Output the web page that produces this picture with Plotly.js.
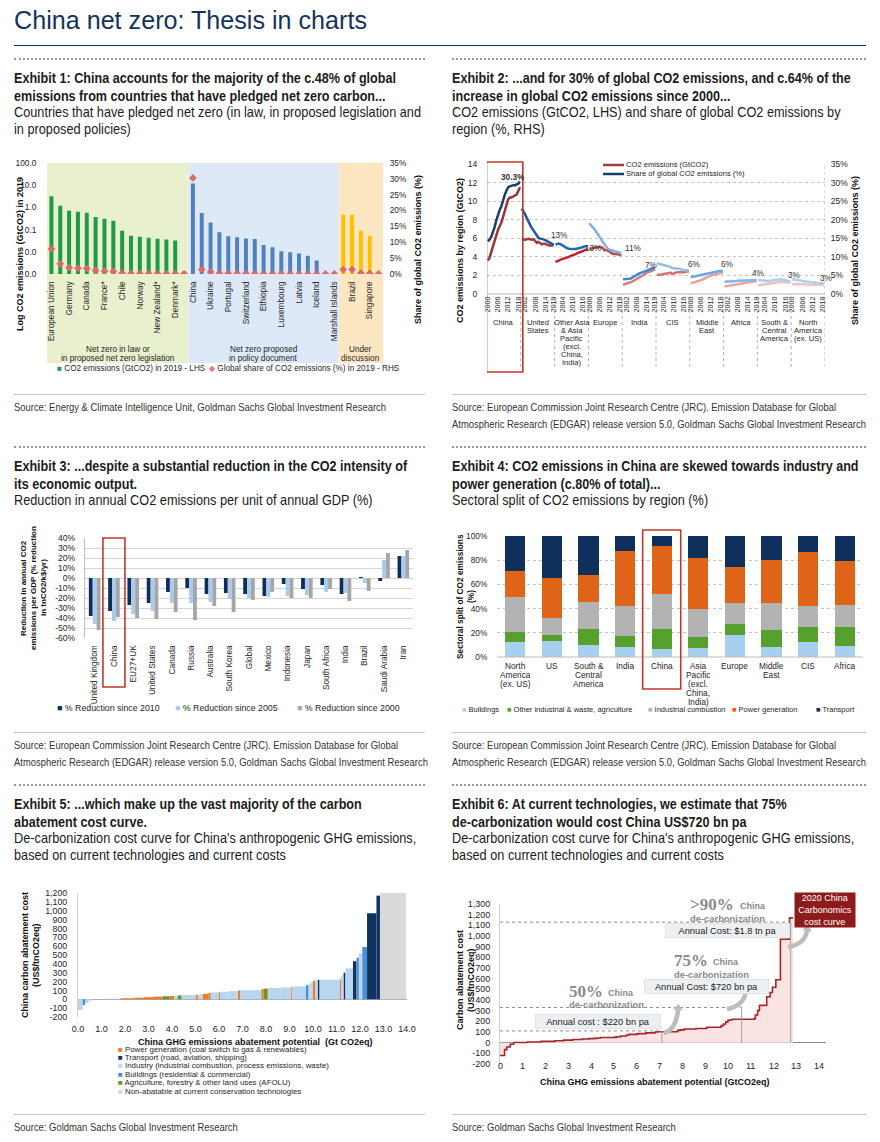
<!DOCTYPE html>
<html>
<head>
<meta charset="utf-8">
<script src="https://cdn.plot.ly/plotly-3.0.1.min.js"></script>
<style>
html,body{margin:0;padding:0;background:#fff;}
#page{position:relative;width:880px;height:1142px;overflow:hidden;font-family:"Liberation Sans",Arial,sans-serif;color:#1c1c1c;}
.t{position:absolute;white-space:nowrap;margin:0;transform-origin:0 0;}
.main{left:14px;top:5px;font-size:26.5px;line-height:30px;color:#14325c;}
.ex{font-weight:bold;font-size:15px;line-height:18px;}
.sub{font-size:14.5px;line-height:17px;}
.src{font-size:10.5px;line-height:17px;color:#333;}
.navy{position:absolute;left:14px;width:852px;top:45px;border-top:1px solid #14325c;}
.dot{position:absolute;border-top:2px dotted #9a9a9a;}
.thin{position:absolute;border-top:1px solid #c8c8c8;}
.chart{position:absolute;}
</style>
</head>
<body>
<div id="page">
  <div class="t main">China net zero: Thesis in charts</div>
  <div class="navy"></div>

  <div class="dot" style="left:14px;width:411px;top:58px"></div>
  <div class="dot" style="left:452px;width:414px;top:58px"></div>
  <div class="t ex" style="left:14px;top:69px">Exhibit 1: China accounts for the majority of the c.48% of global<br>emissions from countries that have pledged net zero carbon...</div>
  <div class="t sub" style="left:14px;top:104px">Countries that have pledged net zero (in law, in proposed legislation and<br>in proposed policies)</div>
  <div class="t ex" style="left:452px;top:69px">Exhibit 2: ...and for 30% of global CO2 emissions, and c.64% of the<br>increase in global CO2 emissions since 2000...</div>
  <div class="t sub" style="left:452px;top:104px">CO2 emissions (GtCO2, LHS) and share of global CO2 emissions by<br>region (%, RHS)</div>
  <div class="thin" style="left:14px;width:411px;top:394px"></div>
  <div class="thin" style="left:452px;width:414px;top:394px"></div>
  <div class="t src" style="left:14px;top:399px">Source: Energy &amp; Climate Intelligence Unit, Goldman Sachs Global Investment Research</div>
  <div class="t src" style="left:452px;top:399px">Source: European Commission Joint Research Centre (JRC). Emission Database for Global<br>Atmospheric Research (EDGAR) release version 5.0, Goldman Sachs Global Investment Research</div>

  <div class="dot" style="left:14px;width:411px;top:446px"></div>
  <div class="dot" style="left:452px;width:414px;top:446px"></div>
  <div class="t ex" style="left:14px;top:457px">Exhibit 3: ...despite a substantial reduction in the CO2 intensity of<br>its economic output.</div>
  <div class="t sub" style="left:14px;top:492px">Reduction in annual CO2 emissions per unit of annual GDP (%)</div>
  <div class="t ex" style="left:452px;top:457px">Exhibit 4: CO2 emissions in China are skewed towards industry and<br>power generation (c.80% of total)...</div>
  <div class="t sub" style="left:452px;top:492px">Sectoral split of CO2 emissions by region (%)</div>
  <div class="thin" style="left:14px;width:411px;top:732px"></div>
  <div class="thin" style="left:452px;width:414px;top:732px"></div>
  <div class="t src" style="left:14px;top:737px">Source: European Commission Joint Research Centre (JRC). Emission Database for Global<br>Atmospheric Research (EDGAR) release version 5.0, Goldman Sachs Global Investment Research</div>
  <div class="t src" style="left:452px;top:737px">Source: European Commission Joint Research Centre (JRC). Emission Database for Global<br>Atmospheric Research (EDGAR) release version 5.0, Goldman Sachs Global Investment Research</div>

  <div class="dot" style="left:14px;width:411px;top:784px"></div>
  <div class="dot" style="left:452px;width:414px;top:784px"></div>
  <div class="t ex" style="left:14px;top:795px">Exhibit 5: ...which make up the vast majority of the carbon<br>abatement cost curve.</div>
  <div class="t sub" style="left:14px;top:830px">De-carbonization cost curve for China's anthropogenic GHG emissions,<br>based on current technologies and current costs</div>
  <div class="t ex" style="left:452px;top:795px">Exhibit 6: At current technologies, we estimate that 75%<br>de-carbonization would cost China US$720 bn pa</div>
  <div class="t sub" style="left:452px;top:830px">De-carbonization cost curve for China's anthropogenic GHG emissions,<br>based on current technologies and current costs</div>
  <div class="thin" style="left:14px;width:411px;top:1114px"></div>
  <div class="thin" style="left:452px;width:414px;top:1114px"></div>
  <div class="t src" style="left:14px;top:1119px">Source: Goldman Sachs Global Investment Research</div>
  <div class="t src" style="left:452px;top:1119px">Source: Goldman Sachs Global Investment Research</div>

  <div id="c1" class="chart"></div>
  <div id="c2" class="chart"></div>
  <div id="c3" class="chart"></div>
  <div id="c4" class="chart"></div>
  <div id="c5" class="chart"></div>
  <div id="c6" class="chart"></div>
</div>
<script>
// ================= DATA =================
// Exhibit 1
const grp1Names=["European Union","","Germany","","Canada","","France*","","Chile","","Norway","","New Zealand*","","Denmark*",""];
const grp1Emis=[3.2,1.2,0.71,0.64,0.58,0.37,0.31,0.25,0.089,0.053,0.048,0.043,0.039,0.036,0.032,0.0013];
const grp1Share=[7.9,3.2,2.0,1.8,1.7,1.1,0.9,0.8,0.3,0.15,0.15,0.12,0.1,0.1,0.1,0.05];
const grp2Names=["China","","Ukraine","","Portugal","","Switzerland","","Ethiopia","","Luxembourg","","Latvia","","Iceland","","Marshall Islands"];
const grp2Emis=[12,0.56,0.21,0.075,0.05,0.045,0.04,0.038,0.02,0.016,0.0105,0.0095,0.0083,0.0067,0.0041,null,null];
const grp2Share=[30.3,1.4,0.6,0.2,0.15,0.12,0.12,0.1,0.05,0.05,0.03,0.03,0.02,0.02,0.01,0,0];
const grp3Names=["","Brazil","","Singapore",""];
const grp3Emis=[0.47,0.47,0.089,0.053,null];
const grp3Share=[1.4,1.4,0.3,0.15,0.05];
const c1LogTicks=[0.001,0.01,0.1,1,10,100];
const c1Groups=[["Net zero in law or","in proposed net zero legislation"],["Net zero proposed","in policy document"],["Under","discussion"]];

// Exhibit 2
const c2Years=[2000,2001,2002,2003,2004,2005,2006,2007,2008,2009,2010,2011,2012,2013,2014,2015,2016,2017,2018,2019];
const c2RegionLines=[["China"],["United","States"],["Other Asia","& Asia","Pacific","(excl.","China,","India)"],["Europe"],["India"],["CIS"],["Middle","East"],["Africa"],["South &","Central","America"],["North","America","(ex. US)"]];
const c2TickYears=[[2000,2006,2012,2018],[2002,2008,2014,2019],[2004,2010,2016],[2000,2006,2012,2018],[2002,2008,2014,2019],[2004,2010,2016],[2000,2006,2012,2018],[2002,2008,2014,2019],[2004,2010,2016],[2000,2006,2012,2018]];
const emChina=[3.6,3.9,4.5,5.1,5.8,6.4,6.9,7.3,7.7,8.3,9.0,9.7,10.2,10.4,10.4,10.5,10.6,10.7,11.1,11.5];
const shChina=[14.2,14.6,15.4,16.6,18.0,19.8,21.6,22.6,23.6,25.5,26.7,27.8,28.7,29.0,29.2,29.3,29.3,29.4,29.7,30.3];
const emUS=[5.9,5.85,5.85,5.9,5.95,5.9,5.85,5.9,5.75,5.5,5.6,5.5,5.35,5.4,5.4,5.3,5.25,5.2,5.3,5.2];
const shUS=[23.0,22.4,21.5,20.5,19.4,18.6,17.8,17.1,16.4,15.7,15.1,14.9,14.9,14.7,14.5,14.2,13.9,13.6,13.5,13.3];
const emOtherAsia=[3.45,3.5,3.6,3.7,3.75,3.8,3.9,3.95,4.0,4.1,4.15,4.2,4.3,4.4,4.45,4.5,4.6,4.7,4.8,4.85];
const shOtherAsia=[13.3,13.5,13.6,13.4,13.1,12.8,12.5,12.3,12.2,12.1,12.2,12.1,12.1,12.2,12.2,12.4,12.6,12.8,12.9,12.9];
const emEurope=[4.85,4.9,4.9,5.0,5.05,5.05,5.05,5.05,4.95,4.7,4.75,4.6,4.55,4.45,4.3,4.3,4.3,4.3,4.25,4.15];
const shEurope=[19.0,18.6,18.0,17.5,16.9,16.2,15.5,14.8,14.0,13.3,12.8,12.2,11.9,11.8,11.6,11.6,11.4,11.3,11.1,10.9];
const emIndia=[1.0,1.05,1.1,1.15,1.25,1.3,1.4,1.5,1.6,1.75,1.85,1.95,2.05,2.15,2.3,2.35,2.4,2.5,2.6,2.6];
const shIndia=[4.0,4.0,3.9,4.0,4.1,4.3,4.5,4.8,5.1,5.4,5.6,5.8,6.0,6.2,6.4,6.5,6.6,6.8,7.0,7.0];
const emCIS=[2.05,2.05,2.1,2.1,2.15,2.15,2.2,2.25,2.3,2.15,2.25,2.3,2.35,2.35,2.35,2.3,2.35,2.4,2.45,2.4];
const shCIS=[8.3,8.2,8.0,7.9,7.8,7.6,7.5,7.4,7.3,7.0,7.0,7.0,6.9,6.8,6.7,6.5,6.4,6.4,6.3,6.3];
const emMiddleEast=[1.15,1.2,1.25,1.3,1.35,1.45,1.5,1.55,1.65,1.75,1.85,1.9,2.0,2.05,2.1,2.15,2.2,2.25,2.25,2.3];
const shMiddleEast=[4.6,4.6,4.7,4.8,4.9,5.0,5.1,5.2,5.4,5.6,5.7,5.8,5.9,6.0,6.0,6.1,6.1,6.2,6.2,6.2];
const emAfrica=[0.8,0.83,0.86,0.9,0.93,0.97,1.0,1.03,1.07,1.1,1.13,1.17,1.2,1.22,1.25,1.28,1.3,1.33,1.36,1.4];
const shAfrica=[3.3,3.3,3.4,3.4,3.4,3.5,3.5,3.5,3.6,3.6,3.7,3.7,3.7,3.7,3.8,3.8,3.8,3.8,3.7,3.8];
const emSCAmerica=[0.95,0.97,0.96,0.98,1.0,1.03,1.06,1.1,1.15,1.12,1.2,1.24,1.28,1.3,1.32,1.3,1.26,1.22,1.2,1.2];
const shSCAmerica=[3.8,3.7,3.6,3.5,3.5,3.5,3.5,3.5,3.6,3.7,3.8,3.9,3.9,3.9,3.9,3.8,3.6,3.5,3.4,3.3];
const emNAmerica=[1.05,1.05,1.08,1.1,1.1,1.12,1.1,1.1,1.08,1.0,1.02,1.03,1.0,1.0,1.0,0.98,0.96,0.97,0.98,0.96];
const shNAmerica=[4.0,4.0,3.9,3.8,3.7,3.6,3.5,3.4,3.4,3.3,3.3,3.2,3.1,3.1,3.0,3.0,3.0,2.9,2.9,2.9];
const c2ShareLabels=["30.3%","13%","13%","11%","7%","6%","6%","4%","3%","3%"];

// Exhibit 3
const c3Countries=["United Kingdom","China","EU27+UK","United States","Canada","Russia","Australia","South Korea","Global","Mexico","Indonesia","Japan","South Africa","India","Brazil","Saudi Arabia","Iran"];
const red2010=[-38,-33,-27,-25,-14,-10,-16,-15,-16,-18,-6,-11,-7,-16,1,-3,22];
const red2005=[-46,-43,-36,-33,-25,-25,-24,-21,-20,-19,-18,-17,-14,-15,-5,18,22];
const red2000=[-52,-39,-40,-41,-34,-42,-28,-34,-22,-14,-20,-20,-11,-23,-13,25,28];
const c3Ticks=[-60,-50,-40,-30,-20,-10,0,10,20,30,40];

// Exhibit 4
const c4RegionLines=[["North","America","(ex. US)"],["US"],["South &","Central","America"],["India"],["China"],["Asia","Pacific","(excl.","China,","India)"],["Europe"],["Middle","East"],["CIS"],["Africa"]];
const secBuildings=[12,13,10,8,7,7.5,18,8,12,9];
const secOtherInd=[9,5,13,9,16,9,9.5,14,13,16];
const secIndComb=[29,14,22.5,25,29,23,17,23,17.5,18];
const secPower=[21,33,22.5,46,39.5,42,30,35.5,44.5,36];
const secTransport=[29,35,32,12,8.5,18.5,25.5,19.5,13,21];
const c4Ticks=[0,20,40,60,80,100];

// Exhibits 5 & 6 (abatement cost curve): width = potential (GtCO2eq), cost = US$/tCO2eq, sector code
const abSectorNames=["Power generation (coal switch to gas & renewables)","Transport (road, aviation, shipping)","Industry (industrial combustion, process emissions, waste)","Buildings (residential & commercial)","Agriculture, forestry & other land uses (AFOLU)","Non-abatable at current conservation technologies"];
const abWidth=[0.20,0.10,0.15,0.15,0.60,0.60,0.60,0.40,0.40,0.40,0.30,0.20,0.15,0.15,0.60,0.10,0.20,0.25,0.10,0.35,0.05,0.35,0.40,0.10,0.90,0.10,0.15,0.05,0.50,0.45,0.05,0.60,0.10,0.10,0.10,0.10,0.10,0.08,0.87,0.05,0.10,0.08,0.32,0.15,0.10,0.15,0.20,0.40,0.15,1.10];
const abCost=[-120,-65,-40,-15,2,6,12,18,24,30,34,38,40,44,48,50,55,62,72,78,80,85,92,100,102,115,120,122,128,133,140,145,160,175,195,210,215,220,220,225,260,300,350,430,470,520,590,970,1170,1200];
const abSector=[2,3,2,2,2,2,0,0,0,0,4,0,2,4,2,0,2,0,0,2,0,2,2,0,2,0,4,0,2,2,0,2,3,2,2,0,2,1,2,0,2,1,2,1,3,2,3,1,1,5];
const c5XTicks=[0,1,2,3,4,5,6,7,8,9,10,11,12,13,14];
const c5YTicks=[-200,-100,0,100,200,300,400,500,600,700,800,900,1000,1100,1200];
const c6XTicks=[0,1,2,3,4,5,6,7,8,9,10,11,12,13,14];
const c6YTicks=[-200,-100,0,100,200,300,400,500,600,700,800,900,1000,1100,1200,1300];
const c6ThreshX=[7.1,10.6,12.75];
const c6ThreshY=[110,330,1130];
const c6Pct=["50%","75%",">90%"];
const c6CostText=["Annual cost : $220 bn pa","Annual Cost: $720 bn pa","Annual Cost: $1.8 tn pa"];

// ================= PAGE TEXT (condensed like the reference) =================
function fitClass(cls,ref,target){
  const page=document.getElementById('page');
  const s=document.createElement('span');
  s.className='t '+cls;s.style.visibility='hidden';s.style.left='0px';s.style.top='0px';s.textContent=ref;
  page.appendChild(s);
  const w=s.getBoundingClientRect().width;s.remove();
  const f=target/w;
  document.querySelectorAll('.t.'+cls).forEach(e=>e.style.transform='scaleX('+f+')');
}
fitClass('main','China net zero: Thesis in charts',353);
fitClass('ex','Exhibit 1: China accounts for the majority of the c.48% of global',382);
fitClass('sub','Countries that have pledged net zero (in law, in proposed legislation and',407);
fitClass('src','Source: Energy & Climate Intelligence Unit, Goldman Sachs Global Investment Research',372);

// ================= HELPERS =================
const FONT='"Liberation Sans",Arial,sans-serif';
const NOTICK='rgba(0,0,0,0)';
function frame(div,plot){
  const w=plot.x1-plot.x0,h=plot.y1-plot.y0;
  return {margin:{l:plot.x0-div.left,r:div.left+div.width-plot.x1,t:plot.y0-div.top,b:div.top+div.height-plot.y1,pad:0},
    px:p=>(p-plot.x0)/w, py:p=>(plot.y1-p)/h};
}
function base(div,fr,size){
  return {width:div.width,height:div.height,margin:fr.margin,paper_bgcolor:'rgba(0,0,0,0)',plot_bgcolor:'rgba(0,0,0,0)',
    font:{family:FONT,size:size||8.5,color:'#262626'},showlegend:false,annotations:[],shapes:[],hovermode:false};
}
function txt(fr,text,xpx,ypx,o){
  return Object.assign({text:text,x:fr.px(xpx),y:fr.py(ypx),xref:'paper',yref:'paper',showarrow:false,xanchor:'center',yanchor:'middle',borderpad:0},o||{});
}
function leg(fr,sym,color,text,xpx,ypx,size){
  return txt(fr,'<span style="color:'+color+'">'+sym+'</span> '+text,xpx,ypx,{xanchor:'left',font:{size:size||8}});
}
function draw(id,div,data,layout){
  const el=document.getElementById(id);
  el.style.left=div.left+'px';el.style.top=div.top+'px';
  el.style.width=div.width+'px';el.style.height=div.height+'px';
  Plotly.newPlot(el,data,layout,{staticPlot:true,displayModeBar:false});
}
// curved callout arrow (page pixels): tail -> head, bending through a control point
function curvedArrow(fr,tail,head,color){
  const c=[head[0]-2,tail[1]-3];
  const P=p=>fr.px(p[0])+' '+fr.py(p[1]);
  let dx=head[0]-c[0],dy=head[1]-c[1];const n=Math.hypot(dx,dy);dx/=n;dy/=n;
  const tip=[head[0]+dx*6,head[1]+dy*6],b1=[head[0]-dy*5,head[1]+dx*5],b2=[head[0]+dy*5,head[1]-dx*5];
  return [
    {type:'path',xref:'paper',yref:'paper',path:'M '+P(tail)+' Q '+P(c)+' '+P(head),line:{color:color,width:4.5}},
    {type:'path',xref:'paper',yref:'paper',path:'M '+P(tip)+' L '+P(b1)+' L '+P(b2)+' Z',fillcolor:color,line:{width:0}}
  ];
}
const TITLE={size:9,color:'#111'};

// ================= EXHIBIT 1 =================
(function(){
  const div={left:0,top:150,width:440,height:230},plot={x0:47,x1:383,y0:163,y1:274};
  const fr=frame(div,plot),L=base(div,fr,8.3);
  const names=grp1Names.concat(grp2Names,grp3Names);
  const emis=grp1Emis.concat(grp2Emis,grp3Emis);
  const share=grp1Share.concat(grp2Share,grp3Share);
  const n1=grp1Names.length,n2=grp2Names.length,n3=grp3Names.length;
  const xs=names.map((_,i)=>i);
  const cols=xs.map(i=>i<n1?'#1f9b48':(i<n1+n2?'#4f81bd':'#ffc000'));
  const tv=xs.filter(i=>names[i]!=='');
  L.bargap=0.55;
  L.xaxis={range:[-0.5,names.length-0.5],tickvals:tv,ticktext:tv.map(i=>names[i]),tickangle:-90,tickfont:{size:8.3},showgrid:false,zeroline:false,showline:false,ticks:'outside',ticklen:3,tickcolor:NOTICK};
  L.yaxis={type:'log',range:[-3,2],tickvals:c1LogTicks,ticktext:c1LogTicks.map(v=>v.toFixed(1)),showgrid:false,zeroline:false,ticks:'outside',ticklen:8,tickcolor:NOTICK};
  L.yaxis2={overlaying:'y',side:'right',range:[0,35],dtick:5,ticksuffix:'%',showgrid:false,zeroline:false,ticks:'outside',ticklen:4,tickcolor:NOTICK};
  const bands=[[-0.5,n1-0.5,'#e8f0cd'],[n1-0.5,n1+n2-0.5,'#dde9f6'],[n1+n2-0.5,names.length-0.5,'#fde7c2']];
  bands.forEach(b=>L.shapes.push({type:'rect',xref:'x',yref:'paper',x0:b[0],x1:b[1],y0:fr.py(363),y1:1,fillcolor:b[2],line:{width:0},layer:'below'}));
  const centers=[(n1-1)/2,n1+(n2-1)/2,n1+n2+(n3-1)/2];
  c1Groups.forEach((g,k)=>g.forEach((s,j)=>L.annotations.push({text:s,x:centers[k],xref:'x',y:fr.py(349+j*9),yref:'paper',showarrow:false,xanchor:'center',yanchor:'middle',font:{size:8.2}})));
  L.annotations.push(txt(fr,'<b>Log CO2 emissions (GtCO2) in 2019</b>',20,254,{textangle:-90,font:TITLE}));
  L.annotations.push(txt(fr,'<b>Share of global CO2 emissions (%)</b>',418,250,{textangle:-90,font:TITLE}));
  L.annotations.push(leg(fr,'■','#1f9b48','CO2 emissions (GtCO2) in 2019 - LHS',56,368,8.2));
  L.annotations.push(leg(fr,'◆','#e07a7a','Global share of CO2 emissions (%) in 2019 - RHS',208,368,8.2));
  const data=[
    {type:'bar',x:xs,y:emis,marker:{color:cols},yaxis:'y'},
    {type:'scatter',mode:'markers',x:xs,y:share,yaxis:'y2',marker:{symbol:'diamond',size:6,color:'#db6b6b'}}
  ];
  draw('c1',div,data,L);
})();

// ================= EXHIBIT 2 =================
(function(){
  const div={left:440,top:150,width:440,height:230},plot={x0:487,x1:825,y0:164,y1:294};
  const fr=frame(div,plot),L=base(div,fr,8.5);
  const N=c2Years.length,R=c2RegionLines.length;
  const em=[emChina,emUS,emOtherAsia,emEurope,emIndia,emCIS,emMiddleEast,emAfrica,emSCAmerica,emNAmerica];
  const sh=[shChina,shUS,shOtherAsia,shEurope,shIndia,shCIS,shMiddleEast,shAfrica,shSCAmerica,shNAmerica];
  const emCol=['#9e3131','#a83b3b','#c62229','#c14747','#e07575','#de6a6a','#eb9c9c','#eea4a4','#f4bcbc','#f4c2c2'];
  const shCol=['#163f6f','#1c5b9b','#2468ae','#85aedd','#3c8ad6','#92bfe9','#6ba8e2','#7fb7ea','#a9d0f2','#abd1f2'];
  const xOf=(r,i)=>r*N+i+0.5;
  const data=[];
  for(let r=0;r<R;r++){
    const xs=c2Years.map((_,i)=>xOf(r,i));
    data.push({type:'scatter',mode:'lines',x:xs,y:em[r],yaxis:'y',line:{color:emCol[r],width:2.5}});
    data.push({type:'scatter',mode:'lines',x:xs,y:sh[r],yaxis:'y2',line:{color:shCol[r],width:2.5}});
  }
  const tv=[],tt=[];
  c2TickYears.forEach((ys,r)=>ys.forEach(y=>{tv.push(xOf(r,c2Years.indexOf(y)));tt.push(String(y));}));
  L.xaxis={range:[0,R*N],tickvals:tv,ticktext:tt,tickangle:-90,tickfont:{size:7.2},showgrid:false,zeroline:false,ticks:''};
  L.yaxis={range:[0,14],dtick:2,showgrid:true,gridcolor:'#c4c4c4',griddash:'dot',zeroline:false,ticks:'outside',ticklen:7,tickcolor:NOTICK};
  L.yaxis2={overlaying:'y',side:'right',range:[0,35],dtick:5,ticksuffix:'%',showgrid:false,zeroline:false,ticks:'outside',ticklen:3,tickcolor:NOTICK};
  L.shapes.push({type:'line',xref:'paper',yref:'paper',x0:0,x1:1,y0:0,y1:0,line:{color:'#b8b8b8',width:1}});
  for(let r=1;r<=R;r++){
    L.shapes.push({type:'line',xref:'x',yref:'paper',x0:r*N,x1:r*N,y0:fr.py(367),y1:r===R?1:0,line:{color:'#b0b0b0',width:1,dash:'dot'}});
  }
  L.shapes.push({type:'rect',xref:'x',yref:'paper',x0:-0.3,x1:21.2,y0:fr.py(372),y1:fr.py(162),line:{color:'#c0392b',width:1.6}});
  c2RegionLines.forEach((g,r)=>g.forEach((s,j)=>L.annotations.push({text:s,x:r*N+N/2,xref:'x',y:fr.py(322+j*8),yref:'paper',showarrow:false,xanchor:'center',yanchor:'middle',font:{size:7.6}})));
  const shifts=[[-7,4],[5,9],[5,-2],[12,5],[-4,3],[5,6],[4,6],[1,6],[4,6],[2,5]];
  c2ShareLabels.forEach((s,r)=>L.annotations.push({text:r===0?'<b>'+s+'</b>':s,x:xOf(r,N-1),xref:'x',y:sh[r][N-1],yref:'y2',xshift:shifts[r][0],yshift:shifts[r][1],showarrow:false,xanchor:'center',yanchor:'middle',font:{size:8.2,color:'#333'}}));
  L.shapes.push({type:'line',xref:'paper',yref:'paper',x0:fr.px(603),x1:fr.px(624),y0:fr.py(165),y1:fr.py(165),line:{color:'#a83b3b',width:2.5}});
  L.shapes.push({type:'line',xref:'paper',yref:'paper',x0:fr.px(603),x1:fr.px(624),y0:fr.py(174),y1:fr.py(174),line:{color:'#17406d',width:2.5}});
  L.annotations.push(txt(fr,'CO2 emissions (GtCO2)',625,165,{xanchor:'left',font:{size:7.6}}));
  L.annotations.push(txt(fr,'Share of global CO2 emissions (%)',625,174,{xanchor:'left',font:{size:7.6}}));
  L.annotations.push(txt(fr,'<b>CO2 emissions by region (GtCO2)</b>',460,251,{textangle:-90,font:TITLE}));
  L.annotations.push(txt(fr,'<b>Share of global CO2 emissions (%)</b>',855,251,{textangle:-90,font:TITLE}));
  draw('c2',div,data,L);
})();

// ================= EXHIBIT 3 =================
(function(){
  const div={left:0,top:525,width:440,height:200},plot={x0:85,x1:413,y0:538,y1:638};
  const fr=frame(div,plot),L=base(div,fr,8.6);
  L.barmode='group';L.bargap=0.4;L.bargroupgap=0;
  L.xaxis={type:'category',range:[-0.5,c3Countries.length-0.5],tickangle:-90,tickfont:{size:8.3},showgrid:false,zeroline:false,ticks:'outside',ticklen:3,tickcolor:NOTICK};
  L.yaxis={range:[-60,40],tickvals:c3Ticks,ticktext:c3Ticks.map(v=>v+'%'),showgrid:true,gridcolor:'#d4d4d4',zeroline:false,showline:true,linecolor:'#c0c0c0',ticks:'outside',ticklen:7,tickcolor:NOTICK};
  const data=[
    {type:'bar',x:c3Countries,y:red2010,marker:{color:'#0f2d58'}},
    {type:'bar',x:c3Countries,y:red2005,marker:{color:'#a9cbec'}},
    {type:'bar',x:c3Countries,y:red2000,marker:{color:'#a6a6a6'}}
  ];
  const ci=c3Countries.indexOf('China');
  L.shapes.push({type:'rect',xref:'x',yref:'paper',x0:ci-0.57,x1:ci+0.57,y0:fr.py(687),y1:fr.py(538),line:{color:'#c0392b',width:1.6}});
  ['Reduction in annual CO2','emissions per GDP (% reduction','in tnCO2/k$/yr)'].forEach((s,k)=>L.annotations.push(txt(fr,'<b>'+s+'</b>',23+k*10,588,{textangle:-90,font:{size:8,color:'#111'}})));
  L.annotations.push(leg(fr,'■','#0f2d58','% Reduction since 2010',56,708,8.8));
  L.annotations.push(leg(fr,'■','#a9cbec','% Reduction since 2005',174,708,8.8));
  L.annotations.push(leg(fr,'■','#a6a6a6','% Reduction since 2000',296,708,8.8));
  draw('c3',div,data,L);
})();

// ================= EXHIBIT 4 =================
(function(){
  const div={left:440,top:525,width:440,height:200},plot={x0:497,x1:863,y0:536,y1:657};
  const fr=frame(div,plot),L=base(div,fr,8.3);
  const cats=c4RegionLines.map(g=>g.join(' '));
  L.barmode='stack';L.bargap=0.45;
  L.xaxis={type:'category',range:[-0.5,cats.length-0.5],showticklabels:false,showgrid:false,zeroline:false,ticks:''};
  L.yaxis={range:[0,100],tickvals:c4Ticks,ticktext:c4Ticks.map(v=>v+'%'),showgrid:true,gridcolor:'#c4c4c4',griddash:'dot',zeroline:false,ticks:'outside',ticklen:7,tickcolor:NOTICK};
  const series=[[secBuildings,'#a9cff0','Buildings'],[secOtherInd,'#56a02e','Other industrial & waste, agriculture'],[secIndComb,'#b3b3b3','Industrial combustion'],[secPower,'#df6418','Power generation'],[secTransport,'#0f2f5c','Transport']];
  const data=series.map(s=>({type:'bar',x:cats,y:s[0],marker:{color:s[1]}}));
  L.shapes.push({type:'line',xref:'paper',yref:'paper',x0:0,x1:1,y0:0,y1:0,line:{color:'#bdbdbd',width:1}});
  const ci=4;
  L.shapes.push({type:'rect',xref:'x',yref:'paper',x0:ci-0.52,x1:ci+0.52,y0:fr.py(689),y1:fr.py(530),line:{color:'#c0392b',width:1.6}});
  c4RegionLines.forEach((g,r)=>g.forEach((s,j)=>L.annotations.push({text:s,x:cats[r],xref:'x',y:fr.py(666+j*9),yref:'paper',showarrow:false,xanchor:'center',yanchor:'middle',font:{size:8.3}})));
  L.annotations.push(txt(fr,'<b>Sectoral split of CO2 emissions</b>',460,597,{textangle:-90,font:{size:8.3,color:'#111'}}));
  L.annotations.push(txt(fr,'<b>(%)</b>',471,597,{textangle:-90,font:{size:8.3,color:'#111'}}));
  const lx=[461,506,647,731,815];
  series.forEach((s,k)=>L.annotations.push(leg(fr,'■',s[1],s[2],lx[k],709,7.5)));
  draw('c4',div,data,L);
})();

// ================= EXHIBIT 5 =================
(function(){
  const div={left:0,top:880,width:440,height:220},plot={x0:78,x1:407,y0:893,y1:1017};
  const fr=frame(div,plot),L=base(div,fr,8.8);
  const starts=[];let acc=0;abWidth.forEach(w=>{starts.push(acc);acc+=w;});
  const secCol=['#f07a26','#10325f','#b9d6f1','#4a8fd6','#5c9a2c','#d9d9d9'];
  const data=[];
  for(let s=0;s<abSectorNames.length;s++){
    const idx=abSector.map((v,i)=>v===s?i:-1).filter(i=>i>=0);
    data.push({type:'bar',x:idx.map(i=>starts[i]+abWidth[i]/2),width:idx.map(i=>abWidth[i]),y:idx.map(i=>abCost[i]),marker:{color:secCol[s],line:{width:0}}});
  }
  L.barmode='overlay';
  L.xaxis={range:[0,14],tickvals:c5XTicks,ticktext:c5XTicks.map(v=>v.toFixed(1)),showgrid:false,zeroline:false,ticks:'outside',ticklen:3,tickcolor:NOTICK,tickfont:{size:9}};
  L.yaxis={range:[-200,1200],tickvals:c5YTicks,ticktext:c5YTicks.map(v=>v.toLocaleString('en-US')),showgrid:false,zeroline:true,zerolinecolor:'#a8a8a8',zerolinewidth:1,showline:true,linecolor:'#d0d0d0',ticks:'outside',ticklen:8,tickcolor:NOTICK};
  L.annotations.push(txt(fr,'<b>China GHG emissions abatement potential\u00a0 (Gt CO2eq)</b>',255,1042,{font:TITLE}));
  L.annotations.push(txt(fr,'<b>China carbon abatement cost</b>',25,955,{textangle:-90,font:TITLE}));
  L.annotations.push(txt(fr,'<b>(US$/tnCO2eq)</b>',36,955,{textangle:-90,font:TITLE}));
  abSectorNames.forEach((n,k)=>L.annotations.push(leg(fr,'■',secCol[k],n,117,1049+k*8.4,7.9)));
  draw('c5',div,data,L);
})();

// ================= EXHIBIT 6 =================
(function(){
  const div={left:440,top:880,width:440,height:220},plot={x0:500,x1:826,y0:904,y1:1064};
  const fr=frame(div,plot),L=base(div,fr,9);
  const xs=[],ys=[];let acc=0,lastEnd=0,lastCost=0;
  abWidth.forEach((w,i)=>{ if(abSector[i]!==5){xs.push(acc);ys.push(abCost[i]);lastEnd=acc+w;lastCost=abCost[i];} acc+=w; });
  xs.push(lastEnd);ys.push(lastCost);
  const data=[{type:'scatter',mode:'lines',x:xs,y:ys,line:{shape:'hv',color:'#a3262a',width:1.6},fill:'tozeroy',fillcolor:'#fbe3e3'}];
  L.xaxis={range:[0,14.3],showticklabels:false,showgrid:false,zeroline:false,ticks:''};
  L.yaxis={range:[-200,1300],tickvals:c6YTicks,ticktext:c6YTicks.map(v=>v.toLocaleString('en-US')),showgrid:false,zeroline:true,zerolinecolor:'#8a8a8a',zerolinewidth:1,showline:true,linecolor:'#cfcfcf',ticks:'outside',ticklen:7,tickcolor:NOTICK};
  c6XTicks.forEach(v=>L.annotations.push({text:String(v),x:v,xref:'x',y:fr.py(1066),yref:'paper',showarrow:false,xanchor:'center',yanchor:'middle',font:{size:9}}));
  c6ThreshX.forEach((tx,k)=>{
    L.shapes.push({type:'line',xref:'x',yref:'y',x0:0,x1:tx,y0:c6ThreshY[k],y1:c6ThreshY[k],line:{color:'#8c8c8c',width:1,dash:'dot'}});
    L.shapes.push({type:'line',xref:'x',yref:'y',x0:tx,x1:tx,y0:0,y1:c6ThreshY[k],line:{color:'#a0a0a0',width:1}});
  });
  const pctPos=[[568,991],[673,960],[689,904]],chinaPos=[[607,993],[712,962],[739,906]],decPos=[[568,1004],[673,974],[689,918]];
  const boxPos=[[598,1021,124],[706,986,123],[727,931,123]];
  const arrows=[[[664,1033],[678,1010]],[[727,1009],[746,991]],[[788,947],[807,931]]];
  c6Pct.forEach((p,k)=>{
    L.annotations.push(txt(fr,'<b>'+p+'</b>',pctPos[k][0],pctPos[k][1],{xanchor:'left',font:{family:'"Liberation Serif","DejaVu Serif",serif',size:17,color:'#8a8a8a'}}));
    L.annotations.push(txt(fr,'<b>China</b>',chinaPos[k][0],chinaPos[k][1],{xanchor:'left',font:{size:9,color:'#8a8a8a'}}));
    L.annotations.push(txt(fr,'<b>de-carbonization</b>',decPos[k][0],decPos[k][1],{xanchor:'left',font:{size:9.4,color:'#8a8a8a'}}));
    L.annotations.push(txt(fr,c6CostText[k],boxPos[k][0],boxPos[k][1],{width:boxPos[k][2],height:13,bgcolor:'#edf0f3',bordercolor:'#e2e4e8',borderwidth:1,font:{size:9.3,color:'#222'}}));
    curvedArrow(fr,arrows[k][0],arrows[k][1],'#bcbcbc').forEach(s=>L.shapes.push(s));
  });
  L.annotations.push(txt(fr,'2020 China<br>Carbonomics<br>cost curve',825,910,{width:60,height:34,bgcolor:'#8e1b1b',font:{size:9,color:'#ffffff'}}));
  L.annotations.push(txt(fr,'<b>China GHG emissions abatement potential (GtCO2eq)</b>',655,1082,{font:TITLE}));
  L.annotations.push(txt(fr,'<b>Carbon abatement cost</b>',460,980,{textangle:-90,font:TITLE}));
  L.annotations.push(txt(fr,'<b>(US$/tnCO2eq)</b>',471,980,{textangle:-90,font:TITLE}));
  draw('c6',div,data,L);
})();
</script>
</body>
</html>
